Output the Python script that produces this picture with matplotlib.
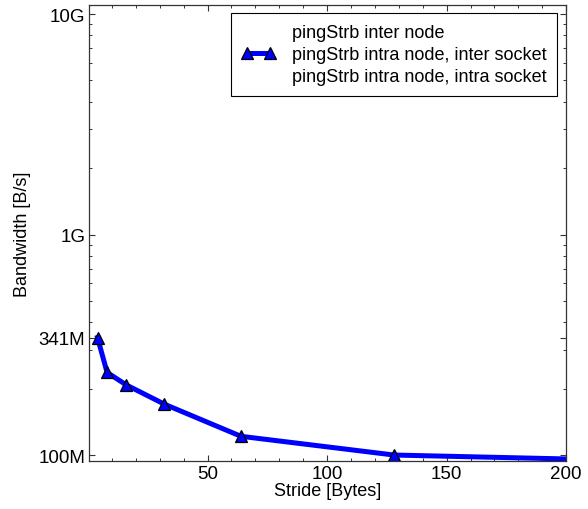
import numpy as np
import matplotlib
matplotlib.use("Agg")
import matplotlib.pyplot as plt
from matplotlib.ticker import FixedLocator, FixedFormatter, LogLocator, NullFormatter, MultipleLocator

plt.rcParams['font.family'] = ['Liberation Sans', 'DejaVu Sans']

# stride sweep, intra node / inter socket
stride = [4, 8, 16, 32, 64, 128, 256]
bandwidth = [341e6, 237e6, 208e6, 170e6, 121.6e6, 100e6, 93e6]

labels = ["pingStrb inter node",
          "pingStrb intra node, inter socket",
          "pingStrb intra node, intra socket"]
ytick_vals = [100e6, 341e6, 1e9, 10e9]
ytick_text = ["100M", "341M", "1G", "10G"]

fig = plt.figure(figsize=(5.88, 5.10), dpi=100)
ax = fig.add_axes([0.152, 0.094, 0.811, 0.894])

# empty series keep their place in the legend
ax.plot([], [], linestyle='none', label=labels[0])
ax.plot(stride, bandwidth, color='#0000ff', lw=3.6, marker='^', ms=9,
        mfc='#0000ff', mec='black', mew=0.9, label=labels[1])
ax.plot([], [], linestyle='none', label=labels[2])

ax.set_yscale('log')
ax.set_xlim(0.6, 200)
ax.set_ylim(0.939e8, 1.098e10)

ax.yaxis.set_major_locator(FixedLocator(ytick_vals))
ax.yaxis.set_major_formatter(FixedFormatter(ytick_text))
ax.yaxis.set_minor_locator(LogLocator(base=10, subs=np.arange(2, 10)))
ax.yaxis.set_minor_formatter(NullFormatter())
ax.xaxis.set_major_locator(FixedLocator([50, 100, 150, 200]))
ax.xaxis.set_minor_locator(MultipleLocator(10))

ax.tick_params(which='both', direction='in', top=True, right=True,
               labelsize=13.5, color='#333333')
ax.tick_params(which='major', length=4, width=0.8, pad=3)
ax.tick_params(which='minor', length=2.5, width=0.7)
for s in ax.spines.values():
    s.set_color('#333333')
    s.set_linewidth(0.9)

ax.set_xlabel("Stride [Bytes]", fontsize=13, labelpad=0)
ax.set_ylabel("Bandwidth [B/s]", fontsize=13, labelpad=5)

leg = ax.legend(loc='upper right', bbox_to_anchor=(0.9815, 0.982),
                borderaxespad=0, fontsize=13, numpoints=2,
                handlelength=1.9, handletextpad=0.9,
                labelspacing=0.28, borderpad=0.6, fancybox=False,
                framealpha=1, edgecolor='black')
leg.get_frame().set_linewidth(0.8)

fig.savefig("out.png", dpi=100)
